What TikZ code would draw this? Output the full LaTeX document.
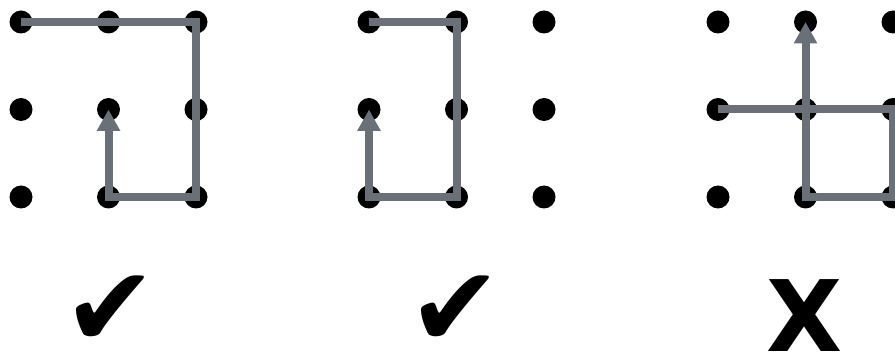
\documentclass[tikz,border=0pt]{standalone}
\usepackage{fontspec}
\newfontfamily\symfont{DejaVu Sans}
\usetikzlibrary{arrows.meta}
\definecolor{pathgray}{RGB}{106,112,120}

\tikzset{every picture/.style={line width=0.75pt},
  dot/.style={circle,fill=black,inner sep=0pt,minimum size=17.25pt},
  route/.style={draw=pathgray,line width=6pt,-{Triangle[width=16.5pt,length=16pt]}},
  verdict/.style={inner sep=0pt,anchor=base,font=\symfont\fontsize{84}{84}\selectfont}
}

\begin{document}
\begin{tikzpicture}[x=0.75pt,y=0.75pt,yscale=-1,xscale=1]
\clip (0,0) rectangle (895,352);
\path[use as bounding box] (0,0) rectangle (895,352);

%Shape: 3x3 grids of dots
\foreach \g/\gx in {a/21,b/369,c/718}
  \foreach \i in {0,1,2}
    \foreach \j in {0,1,2}
      \node[dot] (\g\i\j) at (\gx+87.5*\i, 22+87.5*\j) {};

%Straight Lines: first pattern
\draw [route] (a00.center) -- (a20.center) -- (a22.center) -- (a12.center) -- (a11.center) ;
%Straight Lines: second pattern
\draw [route] (b00.center) -- (b10.center) -- (b12.center) -- (b02.center) -- (b01.center) ;
%Straight Lines: third pattern
\draw [route] (c01.center) -- (c21.center) -- (c22.center) -- (c12.center) -- (c10.center) ;

% Text Node
\node [verdict] (ok1) at (110,346) {✔};
% Text Node
\node [verdict] (ok2) at (455,346) {✔};
% Text Node
\node [verdict,font=\symfont\bfseries\fontsize{74}{74}\selectfont] (no3) at (805,351) {X};

\end{tikzpicture}
\end{document}
